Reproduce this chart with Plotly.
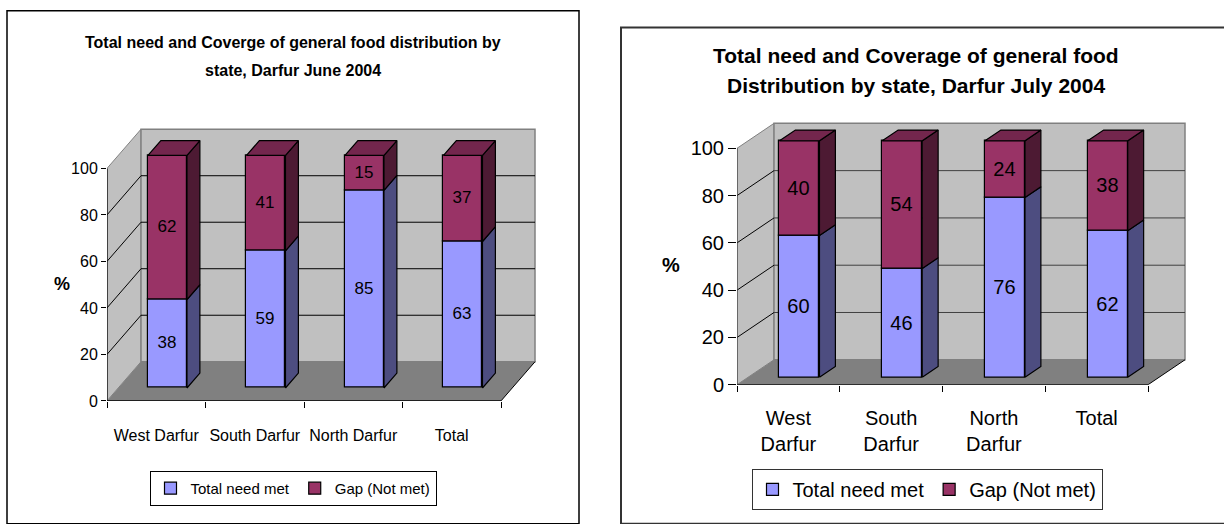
import plotly.graph_objects as go

# ---------------- data ----------------
categories_june = ["West Darfur", "South Darfur", "North Darfur", "Total"]
met_june = [38, 59, 85, 63]
gap_june = [62, 41, 15, 37]

categories_july = ["West<br>Darfur", "South<br>Darfur", "North<br>Darfur", "Total"]
met_july = [60, 46, 76, 62]
gap_july = [40, 54, 24, 38]

y_ticks = [0, 20, 40, 60, 80, 100]
series_names = ["Total need met", "Gap (Not met)"]

title_june = ["Total need and Coverge of general food distribution by", "state, Darfur June 2004"]
title_july = ["Total need and Coverage of general food", "Distribution by state, Darfur July 2004"]

# ---------------- styling ----------------
W, H = 1224, 524
C_MET, C_GAP = "#9999FF", "#993366"
C_MET_SIDE, C_GAP_SIDE, C_GAP_TOP = "#4D4D80", "#4D1A33", "#73264D"
C_WALL, C_FLOOR, C_EDGE = "#C0C0C0", "#808080", "#808080"

ARIAL = "Liberation Sans, Arial, sans-serif"


def px(x):
    return x / W


def py(y):
    return 1 - y / H


fig = go.Figure()
shapes = []
annotations = []


def add_chart(n, cats, met, gap, cfg, font, legend_name):
    xa = "x" if n == 1 else "x%d" % n
    ya = "y" if n == 1 else "y%d" % n
    ux = (cfg["x4"] - cfg["x0"]) / len(cats)
    uy = (cfg["y0"] - cfg["y100"]) / 100.0
    ddx = cfg["ddx_px"] / ux
    ddy = cfg["ddy_px"] / uy
    f0, f1 = cfg["f0"], cfg["f1"]
    bw = cfg["bw_px"] / ux
    ncat = len(cats)
    ymax = y_ticks[-1]

    def path(pts):
        return "M " + " L ".join("%.4f,%.4f" % p for p in pts) + " Z"

    common = dict(xref=xa, yref=ya, layer="below")
    # walls & floor
    shapes.append(dict(type="path", path=path([(0, 0), (0, ymax), (ddx, ymax + ddy), (ddx, ddy)]),
                       fillcolor=C_WALL, line=dict(color=C_EDGE, width=1), **common))
    shapes.append(dict(type="path", path=path([(ddx, ddy), (ddx, ymax + ddy), (ncat + ddx, ymax + ddy), (ncat + ddx, ddy)]),
                       fillcolor=C_WALL, line=dict(color=C_EDGE, width=1.5), **common))
    shapes.append(dict(type="path", path=path([(0, 0), (ncat, 0), (ncat + ddx, ddy), (ddx, ddy)]),
                       fillcolor=C_FLOOR, line=dict(width=0), **common))
    # gridlines
    for v in y_ticks[1:-1]:
        shapes.append(dict(type="line", x0=ddx, y0=v + ddy, x1=ncat + ddx, y1=v + ddy,
                           line=dict(color=cfg["grid"], width=1), **common))
        shapes.append(dict(type="line", x0=0, y0=v, x1=ddx, y1=v + ddy,
                           line=dict(color="black", width=1), **common))
    # axis edges
    shapes.append(dict(type="line", x0=0, y0=0, x1=ncat, y1=0, line=dict(color="black", width=1.5), **common))
    shapes.append(dict(type="line", x0=ncat, y0=0, x1=ncat + ddx, y1=ddy, line=dict(color="black", width=1), **common))
    shapes.append(dict(type="line", x0=0, y0=0, x1=0, y1=ymax, line=dict(color=cfg["axis"], width=1.2), **common))

    # bars (front faces)
    xc = [i + 0.5 + f0 * ddx for i in range(ncat)]
    b0 = f0 * ddy
    base_gap = [m + b0 for m in met]
    for vals, base, color, name in [(met, [b0] * ncat, C_MET, series_names[0]),
                                    (gap, base_gap, C_GAP, series_names[1])]:
        fig.add_trace(go.Bar(
            x=xc, y=vals, base=base, width=bw, name=name,
            marker=dict(color=color, line=dict(color="black", width=1.2)),
            text=[str(v) for v in vals], textposition="inside", insidetextanchor="middle",
            textangle=0, constraintext="none",
            textfont=dict(family=font["family"], size=font["value"], color="black"),
            xaxis=xa, yaxis=ya, legend=legend_name, hoverinfo="skip",
        ))

    # side and top faces
    dfx = (f1 - f0) * ddx
    dfy = (f1 - f0) * ddy

    def faces(bottoms, tops):
        xs, ys = [], []
        for i in range(ncat):
            xr = xc[i] + bw / 2
            b, t = bottoms[i], tops[i]
            xs += [xr, xr + dfx, xr + dfx, xr, xr, None]
            ys += [b, b + dfy, t + dfy, t, b, None]
        return xs, ys

    met_top = [b0 + m for m in met]
    gap_top = [base_gap[i] + gap[i] for i in range(ncat)]
    for (xs, ys), col in [(faces([b0] * ncat, met_top), C_MET_SIDE),
                          (faces(base_gap, gap_top), C_GAP_SIDE)]:
        fig.add_trace(go.Scatter(x=xs, y=ys, mode="lines", fill="toself", fillcolor=col,
                                 line=dict(color="black", width=1.2), showlegend=False,
                                 hoverinfo="skip", xaxis=xa, yaxis=ya))
    txs, tys = [], []
    for i in range(ncat):
        xl, xr, T = xc[i] - bw / 2, xc[i] + bw / 2, gap_top[i]
        txs += [xl, xl + dfx, xr + dfx, xr, xl, None]
        tys += [T, T + dfy, T + dfy, T, T, None]
    fig.add_trace(go.Scatter(x=txs, y=tys, mode="lines", fill="toself", fillcolor=C_GAP_TOP,
                             line=dict(color="black", width=1.2), showlegend=False,
                             hoverinfo="skip", xaxis=xa, yaxis=ya))

    xkey = "xaxis" if n == 1 else "xaxis%d" % n
    ykey = "yaxis" if n == 1 else "yaxis%d" % n
    fig.update_layout(**{
        xkey: dict(domain=[px(cfg["x0"]), px(cfg["right"])],
                   range=[0, (cfg["right"] - cfg["x0"]) / ux],
                   tickmode="array", tickvals=[i + 0.5 for i in range(ncat)], ticktext=cats,
                   tickangle=0,
                   ticks="outside", ticklen=cfg["lablen"], tickcolor="rgba(0,0,0,0)",
                   minor=dict(tickmode="array", tickvals=list(range(ncat + 1)), ticks="outside",
                              ticklen=6, tickcolor="black", tickwidth=1, showgrid=False),
                   tickfont=dict(family=font["family"], size=font["cat"], color="black"),
                   showgrid=False, zeroline=False, showline=False, anchor=ya, fixedrange=True),
        ykey: dict(domain=[py(cfg["y0"]), py(cfg["top"])],
                   range=[0, (cfg["y0"] - cfg["top"]) / uy],
                   tickmode="array", tickvals=y_ticks, ticks="outside", ticklen=cfg["yticklen"],
                   tickcolor="black", tickwidth=1,
                   tickfont=dict(family=font["family"], size=font["tick"], color="black"),
                   showgrid=False, zeroline=False, showline=False, anchor=xa, fixedrange=True),
    })


cfg_june = dict(x0=107, x4=501, y0=409.5, y100=172, right=545, top=118,
                ddx_px=34, ddy_px=40, f0=0.33, f1=0.71, bw_px=39,
                grid="#000000", axis="#000000", lablen=20, yticklen=5)
cfg_july = dict(x0=737, x4=1148, y0=393, y100=151.5, right=1195, top=112,
                ddx_px=37, ddy_px=25.5, f0=0.3, f1=0.73, bw_px=40,
                grid="#404040", axis="#404040", lablen=15, yticklen=8)
font_june = dict(family=ARIAL, value=17, cat=16, tick=16)
font_july = dict(family=ARIAL, value=20, cat=20, tick=20)

add_chart(1, categories_june, met_june, gap_june, cfg_june, font_june, "legend")
add_chart(2, categories_july, met_july, gap_july, cfg_july, font_july, "legend2")

# outer frames
shapes.append(dict(type="rect", xref="paper", yref="paper", x0=px(7), x1=px(579), y0=py(11), y1=py(535),
                   line=dict(color="black", width=1.5), fillcolor="rgba(0,0,0,0)", layer="below"))
shapes.append(dict(type="rect", xref="paper", yref="paper", x0=px(621), x1=px(1235), y0=py(28), y1=py(535),
                   line=dict(color="#333333", width=2), fillcolor="rgba(0,0,0,0)", layer="below"))

# titles (one annotation per line) and axis titles
for line, ypos in zip(title_june, [43, 72]):
    annotations.append(dict(text="<b>" + line + "</b>", xref="paper", yref="paper", x=px(293), y=py(ypos),
                            xanchor="center", yanchor="middle", showarrow=False,
                            font=dict(family=ARIAL, size=16, color="black")))
for line, ypos in zip(title_july, [57, 87]):
    annotations.append(dict(text="<b>" + line + "</b>", xref="paper", yref="paper", x=px(916), y=py(ypos),
                            xanchor="center", yanchor="middle", showarrow=False,
                            font=dict(family=ARIAL, size=21, color="black")))
annotations.append(dict(text="<b>%</b>", xref="paper", yref="paper", x=px(62), y=py(290),
                        xanchor="center", yanchor="middle", showarrow=False,
                        font=dict(family=ARIAL, size=18, color="black")))
annotations.append(dict(text="<b>%</b>", xref="paper", yref="paper", x=px(671), y=py(271),
                        xanchor="center", yanchor="middle", showarrow=False,
                        font=dict(family=ARIAL, size=20, color="black")))

fig.update_layout(
    width=W, height=H, margin=dict(l=0, r=0, t=0, b=0),
    paper_bgcolor="white", plot_bgcolor="rgba(0,0,0,0)",
    barmode="overlay", bargap=0,
    shapes=shapes, annotations=annotations,
    legend=dict(orientation="h", x=px(293), y=py(481), xanchor="center", yanchor="top",
                bordercolor="black", borderwidth=1, bgcolor="white",
                font=dict(family=ARIAL, size=15, color="black"), traceorder="normal"),
    legend2=dict(orientation="h", x=px(927), y=py(479), xanchor="center", yanchor="top",
                 bordercolor="#333333", borderwidth=1, bgcolor="white",
                 font=dict(family=ARIAL, size=20, color="black"), traceorder="normal"),
    showlegend=True,
)

fig.write_html("out.html")
